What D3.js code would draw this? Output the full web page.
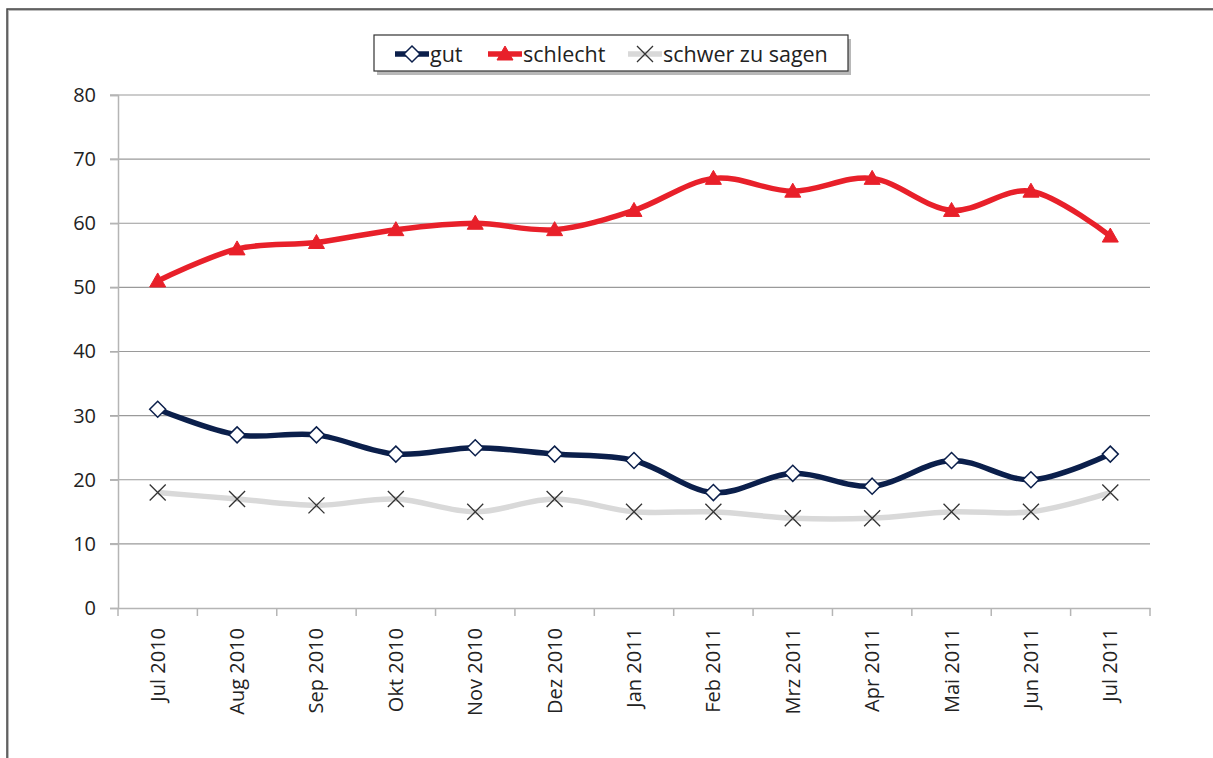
<!DOCTYPE html>
<html>
<head>
<meta charset="utf-8">
<script src="https://cdn.jsdelivr.net/npm/d3@7"></script>
<style>
  body { margin: 0; background: #fff; }
  svg { display: block; font-family: "Open Sans", "Noto Sans", sans-serif; }
</style>
</head>
<body>
<script>
// chart size
var w = 1213;
var h = 758;

var months = ["Jul 2010", "Aug 2010", "Sep 2010", "Okt 2010", "Nov 2010", "Dez 2010",
  "Jan 2011", "Feb 2011", "Mrz 2011", "Apr 2011", "Mai 2011", "Jun 2011", "Jul 2011"];
var gut = [31, 27, 27, 24, 25, 24, 23, 18, 21, 19, 23, 20, 24];
var schlecht = [51, 56, 57, 59, 60, 59, 62, 67, 65, 67, 62, 65, 58];
var schwer = [18, 17, 16, 17, 15, 17, 15, 15, 14, 14, 15, 15, 18];
var yTicks = [0, 10, 20, 30, 40, 50, 60, 70, 80];

var series = [
  {name: "schwer zu sagen", values: schwer, color: "#d9d9d9", marker: "x"},
  {name: "gut", values: gut, color: "#0b1f4b", marker: "diamond"},
  {name: "schlecht", values: schlecht, color: "#e8202a", marker: "triangle"}
];
var legendOrder = [series[1], series[2], series[0]];

var svg = d3.select("body").append("svg")
  .attr("width", w)
  .attr("height", h);

// outer frame (runs off the right and bottom edges)
svg.append("rect")
  .attr("x", 8).attr("y", 10)
  .attr("width", w + 20).attr("height", h + 20)
  .attr("fill", "none")
  .attr("stroke", "#bbb")
  .attr("stroke-width", 2);
svg.append("rect")
  .attr("x", 7).attr("y", 9)
  .attr("width", w + 20).attr("height", h + 20)
  .attr("fill", "none")
  .attr("stroke", "#444")
  .attr("stroke-width", 1.5);

var x = d3.scaleBand().domain(months).range([118, 1150]);
var y = d3.scaleLinear().domain([0, 80]).range([608, 95]);

// gridlines
svg.append("g").selectAll("line")
  .data(yTicks.filter(function(d) { return d > 0; }))
  .enter().append("line")
  .attr("x1", 110).attr("x2", 1150)
  .attr("y1", function(d) { return y(d); })
  .attr("y2", function(d) { return y(d); })
  .attr("stroke", "#9a9a9a")
  .attr("stroke-width", 1.2);

// y axis
var yAxis = svg.append("g")
  .attr("transform", "translate(118,0)")
  .call(d3.axisLeft(y).tickValues(yTicks).tickSize(8).tickPadding(14));
yAxis.select(".domain").attr("stroke", "#b5b5b5").attr("stroke-width", 1.5);
yAxis.selectAll(".tick line").attr("stroke", "#b5b5b5").attr("stroke-width", 1.5);
yAxis.selectAll("text").attr("font-size", 20).attr("fill", "#222")
  .attr("font-family", "'Open Sans', sans-serif");

// x axis
var xAxis = svg.append("g")
  .attr("transform", "translate(0," + y(0) + ")")
  .call(d3.axisBottom(x).tickSize(0).tickSizeOuter(0).tickPadding(0));
xAxis.select(".domain").attr("stroke", "#b5b5b5").attr("stroke-width", 1.5);
xAxis.selectAll("text")
  .attr("font-size", 20).attr("fill", "#222")
  .attr("font-family", "'Open Sans', sans-serif")
  .attr("text-anchor", "end")
  .attr("transform", "rotate(-90)")
  .attr("x", -20).attr("y", 0).attr("dy", "0.35em");
// category boundary ticks
var bounds = months.map(function(m) { return x(m); }).concat([x.range()[1]]);
xAxis.selectAll("line.bound").data(bounds).enter().append("line")
  .attr("class", "bound")
  .attr("x1", function(d) { return d; }).attr("x2", function(d) { return d; })
  .attr("y1", 0).attr("y2", 8)
  .attr("stroke", "#b5b5b5").attr("stroke-width", 1.5);

var cx = function(i) { return x(months[i]) + x.bandwidth() / 2; };

var line = d3.line()
  .x(function(d, i) { return cx(i); })
  .y(function(d) { return y(d); })
  .curve(d3.curveCatmullRom.alpha(0));

// lines
svg.append("g").selectAll("path")
  .data(series)
  .enter().append("path")
  .attr("d", function(s) { return line(s.values); })
  .attr("fill", "none")
  .attr("stroke", function(s) { return s.color; })
  .attr("stroke-width", 5.5)
  .attr("stroke-linejoin", "round");

function drawMarker(g, type, color, px, py) {
  if (type === "diamond") {
    g.append("path")
      .attr("d", "M" + px + "," + (py - 8) + "L" + (px + 8) + "," + py + "L" + px + "," + (py + 8) + "L" + (px - 8) + "," + py + "Z")
      .attr("fill", "#fff").attr("stroke", color).attr("stroke-width", 1.5);
  } else if (type === "triangle") {
    g.append("path")
      .attr("d", "M" + px + "," + (py - 8) + "L" + (px + 8) + "," + (py + 6) + "L" + (px - 8) + "," + (py + 6) + "Z")
      .attr("fill", color).attr("stroke", color).attr("stroke-width", 1);
  } else {
    g.append("path")
      .attr("d", "M" + (px - 8) + "," + (py - 8) + "L" + (px + 8) + "," + (py + 8) + "M" + (px + 8) + "," + (py - 8) + "L" + (px - 8) + "," + (py + 8))
      .attr("stroke", "#333").attr("stroke-width", 1.3).attr("fill", "none");
  }
}

// markers
var markers = svg.append("g");
series.forEach(function(s) {
  s.values.forEach(function(v, i) {
    drawMarker(markers, s.marker, s.color, cx(i), y(v));
  });
});

// legend
var lg = svg.append("g");
lg.append("rect").attr("x", 377).attr("y", 39).attr("width", 474).attr("height", 36).attr("fill", "#b8b8b8");
lg.append("rect").attr("x", 374).attr("y", 35).attr("width", 474).attr("height", 36)
  .attr("fill", "#fff").attr("stroke", "#333").attr("stroke-width", 1.2);
var lx = [395, 488, 628];
legendOrder.forEach(function(s, i) {
  var ly = 54;
  lg.append("line").attr("x1", lx[i]).attr("x2", lx[i] + 34)
    .attr("y1", ly).attr("y2", ly)
    .attr("stroke", s.color).attr("stroke-width", 5.5);
  drawMarker(lg, s.marker, s.color, lx[i] + 17, ly);
  lg.append("text").attr("x", lx[i] + 35).attr("y", ly).attr("dy", "0.35em")
    .attr("font-size", 21.5).attr("fill", "#222").text(s.name);
});
</script>
</body>
</html>
